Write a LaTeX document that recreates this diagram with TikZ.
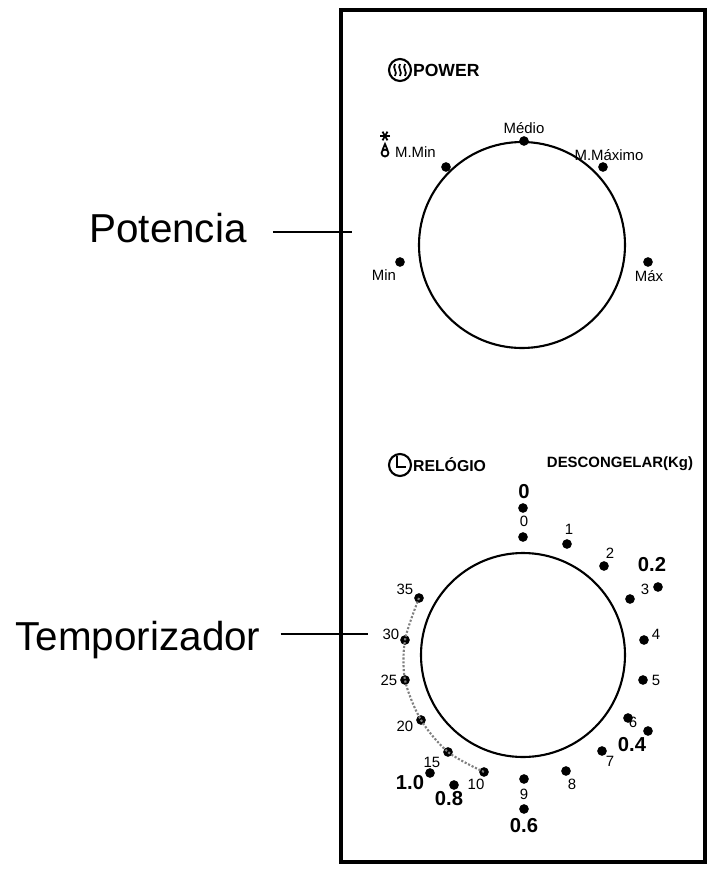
\documentclass[tikz,border=0pt]{standalone}
\usepackage{fontspec}
\setmainfont{Liberation Sans}
\tikzset{
  dot/.style={circle, fill=black, inner sep=0pt, minimum size=5.5pt},
  lbl/.style={font=\fontsize{8.5}{9}\selectfont},
  bold lbl/.style={font=\fontsize{11.5}{12}\selectfont\bfseries},
  head/.style={font=\fontsize{8.5}{10}\selectfont\bfseries},
  big lbl/.style={font=\fontsize{23}{24}\selectfont}
}
\begin{document}
\begin{tikzpicture}[x=0.02cm, y=-0.02cm]
  \useasboundingbox (0,0) rectangle (715,870);

  % Panel
  \draw[line width=2pt] (341,10) rectangle (705,862);

  % Power dial
  \node[head, font=\fontsize{10}{11}\selectfont\bfseries, anchor=west, inner sep=1pt] (power) at (411,70) {POWER};
  \draw[line width=1.2pt] (400,70) circle (11);
  \foreach \dx in {-5,0,5}
    \draw[line width=1pt] (400+\dx,64) .. controls (397+\dx,68) and (403+\dx,72) .. (400+\dx,76);
  \draw[line width=1.2pt] (522,245) circle (103);
  \node[dot] (medio) at (524,141) {};
  \node[dot] (mmin) at (446,167) {};
  \node[dot] (mmax) at (603,167) {};
  \node[dot] (min) at (400,262) {};
  \node[dot] (max) at (648,262) {};
  \node[lbl] at (524,128) {Médio};
  \node[lbl, anchor=west, inner sep=1pt] at (393,152) {M.Min};
  \node[lbl] at (609,155) {M.Máximo};
  \node[lbl] at (384,275) {Min};
  \node[lbl] at (649,276) {Máx};
  % defrost symbol
  \draw[line width=1pt] (385,153) circle (3.5);
  \draw[line width=1pt] (382.5,150) -- (385,144) -- (387.5,150);
  \foreach \a in {0,60,120}
    \draw[line width=1pt] (385,136) ++(\a:5) -- ++(\a+180:10);

  % Timer dial
  \draw[line width=1.2pt] (400,465) circle (11);
  \draw[line width=1pt] (397,456) -- (397,467) -- (406,467);
  \node[head, font=\fontsize{9}{10}\selectfont\bfseries, anchor=west, inner sep=1pt] (relogio) at (411,465) {RELÓGIO};
  \node[head] (descongelar) at (620,464) {DESCONGELAR(Kg)};
  \draw[line width=1.2pt] (523,655) circle (102);

  % timer marks
  \foreach \n/\px/\py/\lx/\ly in {0/523/537/524/521, 1/567/544/569/529, 2/604/566/610/553,
      3/630/599/645/589, 4/644/640/656/634, 5/643/680/656/680, 6/628/718/633/722,
      7/602/751/610/761, 8/566/771/572/784, 9/524/779/524/794, 10/484/772/476/784,
      15/448/752/432/762, 20/421/720/405/726, 25/405/680/389/680, 30/405/640/391/634,
      35/419/598/405/589} {
    \node[dot] (t\n) at (\px,\py) {};
    \node[lbl] at (\lx,\ly) {\n};
  }
  \draw[gray, densely dotted, line width=1.2pt] plot[smooth] coordinates {(419,598) (405,640) (405,680) (421,720) (448,752) (484,772)};

  % defrost marks
  \foreach \n/\m/\px/\py/\lx/\ly in {0/0/523/508/524/492, 2/0.2/658/587/652/565, 4/0.4/648/731/632/745,
      6/0.6/524/809/524/826, 8/0.8/454/785/449/799, 10/1.0/430/773/410/783} {
    \node[dot] (d\n) at (\px,\py) {};
    \node[bold lbl] at (\lx,\ly) {\m};
  }

  % Callouts
  \node[big lbl] (potencia) at (168,228) {Potencia};
  \coordinate (p end) at (352,232);
  \draw[line width=1.5pt] (potencia.east) ++(20,4) -- (p end);
  \node[big lbl] (temporizador) at (138,640) {Temporizador};
  \coordinate (t end) at (368,634);
  \draw[line width=1.5pt] (temporizador.east) ++(14,-6) -- (t end);
\end{tikzpicture}
\end{document}
